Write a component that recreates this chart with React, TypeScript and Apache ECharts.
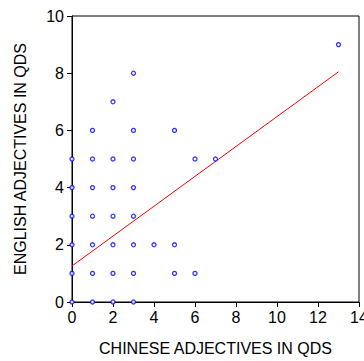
import React, { useEffect, useRef } from "react";
import * as echarts from "echarts";

// Chinese adjectives (x) and English adjectives (y) in QDS
const chineseAdj = [
  3,
  2,
  1, 3, 5,
  0, 1, 2, 3, 6, 7,
  0, 1, 2, 3,
  0, 1, 2, 3,
  0, 1, 2, 3, 4, 5,
  0, 1, 2, 3, 5, 6,
  0, 1, 2, 3,
  13,
];
const englishAdj = [
  8,
  7,
  6, 6, 6,
  5, 5, 5, 5, 5, 5,
  4, 4, 4, 4,
  3, 3, 3, 3,
  2, 2, 2, 2, 2, 2,
  1, 1, 1, 1, 1, 1,
  0, 0, 0, 0,
  9,
];
// Fitted regression line endpoints
const fitX = [0, 13];
const fitY = [1.26, 8.05];

const xTicks = [0, 2, 4, 6, 8, 10, 12, 14];
const yTicks = [0, 2, 4, 6, 8, 10];

export default function App() {
  const ref = useRef<HTMLDivElement>(null);
  useEffect(() => {
    if (!ref.current) return;
    const chart = echarts.init(ref.current, null, { renderer: "svg" });
    const font = "Liberation Sans, Arial, sans-serif";
    chart.setOption({
      animation: false,
      backgroundColor: "#ffffff",
      grid: {
        left: 72,
        right: 5,
        top: 16,
        bottom: 59,
        outerBoundsMode: "none",
        containLabel: false,
        show: true,
        borderColor: "#000",
        borderWidth: 1,
        backgroundColor: "transparent",
      },
      xAxis: {
        type: "value",
        min: xTicks[0],
        max: xTicks[xTicks.length - 1],
        interval: 2,
        name: "CHINESE ADJECTIVES IN QDS",
        nameLocation: "middle",
        nameGap: 38,
        nameTextStyle: { color: "#000", fontSize: 16, fontFamily: font },
        axisLine: { show: true, onZero: false, lineStyle: { color: "#000", width: 1 } },
        axisTick: { show: true, length: 5, lineStyle: { color: "#000" } },
        axisLabel: { color: "#000", fontSize: 16, fontFamily: font, margin: 7, showMaxLabel: true, hideOverlap: false },
        splitLine: { show: false },
      },
      yAxis: {
        type: "value",
        min: yTicks[0],
        max: yTicks[yTicks.length - 1],
        interval: 2,
        name: "ENGLISH ADJECTIVES IN QDS",
        nameLocation: "middle",
        nameGap: 44,
        nameTextStyle: { color: "#000", fontSize: 16, fontFamily: font },
        axisLine: { show: true, onZero: false, lineStyle: { color: "#000", width: 1 } },
        axisTick: { show: true, length: 5, lineStyle: { color: "#000" } },
        axisLabel: { color: "#000", fontSize: 16, fontFamily: font, margin: 8 },
        splitLine: { show: false },
      },
      series: [
        {
          type: "scatter",
          data: chineseAdj.map((x, i) => [x, englishAdj[i]]),
          symbol: "circle",
          symbolSize: 4,
          itemStyle: { color: "#ffffff", borderColor: "#0000ff", borderWidth: 1.3 },
          clip: false,
          z: 3,
        },
        {
          type: "line",
          data: fitX.map((x, i) => [x, fitY[i]]),
          symbol: "none",
          lineStyle: { color: "#ff0000", width: 1 },
          z: 2,
        },
      ],
    });
    return () => chart.dispose();
  }, []);
  return (
    <div
      ref={ref}
      style={{ position: "fixed", left: 0, top: 0, width: 364, height: 361 }}
    />
  );
}
